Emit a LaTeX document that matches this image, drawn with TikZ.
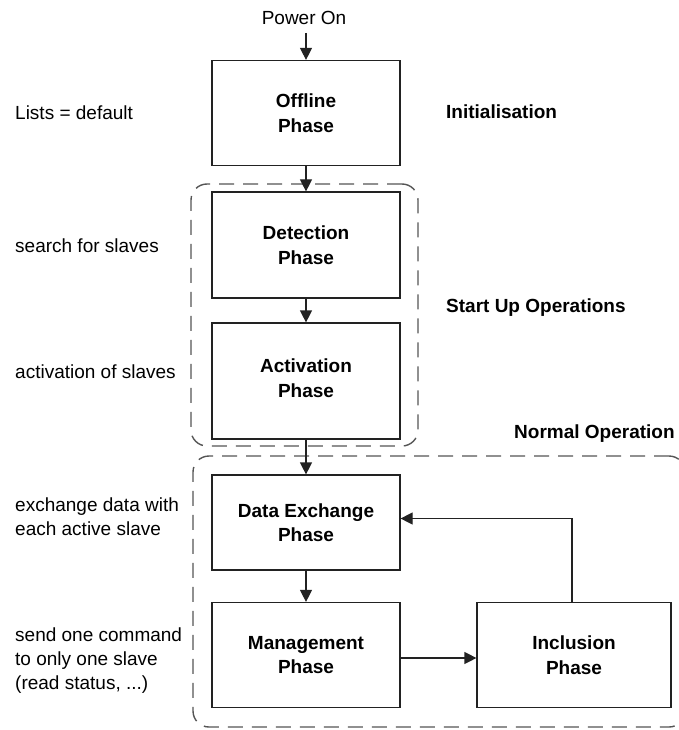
\documentclass[tikz,border=0pt]{standalone}
\usepackage{fontspec}
\setmainfont{Liberation Sans}
\usetikzlibrary{arrows.meta}
\definecolor{linec}{HTML}{222222}
\definecolor{dashc}{HTML}{555555}
\begin{document}
\begin{tikzpicture}[x=1pt,y=-1pt,
  every node/.style={font=\fontsize{19}{24}\selectfont, text=black},
  phase/.style={draw=linec, line width=1.2pt, minimum width=188pt, align=center, inner sep=0pt, font=\fontsize{19}{24.5}\selectfont\bfseries},
  note/.style={anchor=west, align=left, inner sep=0pt},
  heading/.style={anchor=west, inner sep=0pt, font=\fontsize{19}{24}\selectfont\bfseries},
  grp/.style={draw=dashc, line width=1.4pt, dash pattern=on 15pt off 9pt, rounded corners=16pt, inner sep=0pt},
  arr/.style={draw=linec, line width=1.2pt, -{Triangle[length=12pt,width=12pt]}}]
\useasboundingbox (0,0) rectangle (678,730);

% group boxes
\node[grp, minimum width=227pt, minimum height=262pt] (startup) at (304.5,315) {};
\node[grp, minimum width=492pt, minimum height=271pt] (normal) at (439,591.5) {};

% phases
\node[phase, minimum height=105pt] (off) at (306,113) {Offline\\Phase};
\node[phase, minimum height=106pt] (det) at (306,245) {Detection\\Phase};
\node[phase, minimum height=116pt] (act) at (306,381) {};
\node[phase, anchor=center, draw=none, minimum width=0pt] (acttext) at (306,378) {Activation\\Phase};
\node[phase, minimum height=95pt] (dx) at (306,522.5) {Data Exchange\\Phase};
\node[phase, minimum height=105pt] (mgmt) at (306,655) {Management\\Phase};
\node[phase, minimum width=194pt, minimum height=105pt] (incl) at (574,655) {Inclusion\\Phase};

% top label
\node[inner sep=0pt] (power) at (304,18) {Power On};
\coordinate (pstart) at (306,33);

% arrows
\draw[arr] (pstart) -- (off.north);
\draw[arr] (off.south) -- (det.north);
\draw[arr] (det.south) -- (act.north);
\draw[arr] (act.south) -- (dx.north);
\draw[arr] (dx.south) -- (mgmt.north);
\draw[arr] ([yshift=-3pt]mgmt.east) -- ([yshift=-3pt]incl.west);
\draw[arr] ([xshift=-2pt]incl.north) |- ([yshift=4pt]dx.east);

% left notes
\node[note] (n1) at (15,113) {Lists = default};
\node[note] (n2) at (15,246) {search for slaves};
\node[note] (n3) at (15,372) {activation of slaves};
\node[note] (n4) at (15,517) {exchange data with\\each active slave};
\node[note] (n5) at (15,661) {send one command\\to only one slave\\(read status, ...)};

% right headings
\node[heading] (h1) at (446,112) {Initialisation};
\node[heading] (h2) at (446,308) {Start Up Operations};
\node[heading] (h3) at (514,434) {Normal Operation};
\end{tikzpicture}
\end{document}
